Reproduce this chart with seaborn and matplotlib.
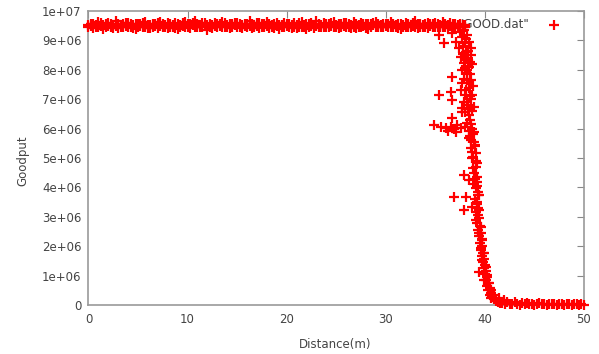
import matplotlib
matplotlib.use("Agg")
import matplotlib.pyplot as plt
import pandas as pd
import seaborn as sns

# flat part: distance (m) and two goodput readings per distance, units of 1e4
band_x = [0, 0.25, 0.5, 0.75, 1, 1.25, 1.5, 1.75, 2, 2.25, 2.5, 2.75, 3, 3.25, 3.5, 3.75, 4, 4.25, 4.5, 4.75,
          5, 5.25, 5.5, 5.75, 6, 6.25, 6.5, 6.75, 7, 7.25, 7.5, 7.75, 8, 8.25, 8.5, 8.75, 9, 9.25, 9.5, 9.75,
          10, 10.25, 10.5, 10.75, 11, 11.25, 11.5, 11.75, 12, 12.25, 12.5, 12.75, 13, 13.25, 13.5, 13.75, 14, 14.25, 14.5, 14.75,
          15, 15.25, 15.5, 15.75, 16, 16.25, 16.5, 16.75, 17, 17.25, 17.5, 17.75, 18, 18.25, 18.5, 18.75, 19, 19.25, 19.5, 19.75,
          20, 20.25, 20.5, 20.75, 21, 21.25, 21.5, 21.75, 22, 22.25, 22.5, 22.75, 23, 23.25, 23.5, 23.75, 24, 24.25, 24.5, 24.75,
          25, 25.25, 25.5, 25.75, 26, 26.25, 26.5, 26.75, 27, 27.25, 27.5, 27.75, 28, 28.25, 28.5, 28.75, 29, 29.25, 29.5, 29.75,
          30, 30.25, 30.5, 30.75, 31, 31.25, 31.5, 31.75, 32, 32.25, 32.5, 32.75, 33, 33.25, 33.5, 33.75, 34, 34.25, 34.5, 34.75,
          35, 35.25, 35.5, 35.75, 36, 36.25, 36.5, 36.75, 37, 37.25, 37.5, 37.75, 38]
band_y = [952, 948, 957, 944, 961, 950, 939, 955, 958, 947, 953, 966, 942, 951, 956, 949, 960, 945, 954, 938,
          957, 950, 946, 962, 953, 941, 955, 949, 958, 964, 947, 952, 943, 956, 951, 959, 940, 954, 948, 961,
          946, 955, 951, 967, 944, 953, 958, 949, 937, 956, 952, 960, 945, 950, 963, 947, 954, 942, 957, 951,
          959, 944, 952, 948, 956, 965, 941, 953, 950, 958, 946, 955, 962, 943, 951, 957, 949, 939, 954, 960,
          950, 956, 943, 958, 952, 947, 961, 954, 940, 957, 949, 953, 966, 945, 951, 959, 944, 955, 948, 962,
          953, 941, 957, 950, 960, 946, 954, 964, 942, 952, 958, 948, 955, 939, 956, 951, 961, 947, 953, 957,
          948, 955, 962, 944, 951, 957, 940, 953, 959, 946, 954, 950, 965, 943, 956, 952, 947, 960, 949, 955,
          958, 945, 952, 961, 947, 954, 950, 943, 957, 951, 946, 953, 951]
band_y2 = [945, 956, 943, 953, 947, 958, 952, 944, 949, 957, 942, 950, 955, 946, 944, 958, 947, 955, 941, 956,
           944, 955, 958, 947, 941, 954, 946, 957, 943, 949, 955, 944, 958, 947, 946, 942, 956, 947, 959, 945,
           956, 943, 959, 946, 955, 944, 947, 958, 953, 945, 943, 948, 957, 955, 944, 959, 945, 956, 946, 958,
           947, 957, 943, 956, 944, 948, 955, 946, 958, 943, 957, 944, 949, 956, 945, 943, 958, 953, 946, 944,
           957, 945, 954, 946, 943, 958, 947, 944, 956, 945, 958, 943, 948, 956, 944, 946, 955, 947, 958, 945,
           946, 956, 944, 958, 945, 955, 943, 947, 957, 944, 946, 956, 943, 955, 947, 958, 944, 955, 946, 944,
           956, 944, 947, 957, 945, 943, 955, 946, 944, 957, 945, 958, 947, 955, 944, 946, 957, 943, 956, 944,
           946, 955, 944, 947, 956, 943, 958, 955, 945, 944, 956, 947, 946]

# falling part: distance (m) and goodput in units of 1e6
drop_x = [35.4, 36.7, 35.9, 37.1, 37.7, 38.4, 37.4, 38.1, 37.6, 38.6, 37.9, 38.4, 37.7, 38.2, 36.7, 38.6, 37.7,
          35.4, 36.6, 37.6, 38.4, 38.75, 36.7, 37.9, 37.7, 38.9,
          36.7, 37.7, 38.4, 34.9, 35.6, 36.1, 36.6, 36.9, 37.2, 37.6, 38.0, 38.4, 38.7, 36.3, 37.1,
          38.4, 38.9, 38.6, 39.1, 38.75, 39.25, 37.9, 38.9, 38.4, 39.25, 39.1, 36.9, 38.1, 39.4, 39.25,
          37.9, 38.75, 39.4, 39.1, 39.6, 39.4, 39.75, 39.6, 39.9, 39.75, 39.4, 40.1, 40.25, 39.9, 40.4,
          40.6, 40.95, 41.4, 41.9,
          39.2, 39.35, 39.1, 39.3, 39.4, 39.25, 39.5, 39.35, 39.6, 39.45, 39.7, 39.5, 39.75, 39.6, 39.85,
          39.7, 39.95, 39.8, 40.05, 39.9, 40.15, 40.0, 40.25, 40.1, 40.35, 40.2, 40.5, 40.35, 40.6, 40.5,
          40.75, 40.65, 40.9, 41.1, 41.3, 41.5,
          37.9, 38.1, 37.8, 38.3, 38.0, 38.5, 38.2, 37.9, 38.4, 38.1, 38.6, 38.3, 38.0, 38.5, 38.2, 38.8,
          38.5, 39.0, 38.7, 39.1, 38.8, 39.2, 38.9, 39.3, 39.0,
          37.5, 38.2, 38.0, 38.6, 37.8, 38.3, 38.7, 38.0, 38.5, 38.2, 38.8, 38.0, 38.5, 38.2, 38.7, 38.3,
          38.6, 38.9, 38.6, 39.0, 38.8, 39.1, 39.0, 39.2, 39.3]
drop_y = [9.18, 9.24, 8.90, 8.96, 9.13, 8.96, 8.73, 8.62, 8.45, 8.50, 8.22, 8.11, 7.99, 7.88, 7.77, 7.65, 7.54,
          7.14, 7.26, 7.31, 7.37, 7.14, 6.97, 6.92, 6.69, 6.74,
          6.35, 6.57, 6.46, 6.12, 6.06, 6.03, 6.06, 5.99, 6.12, 6.01, 6.06, 5.92, 5.99, 5.92, 5.87,
          5.67, 5.55, 5.33, 5.16, 4.99, 4.82, 4.42, 4.48, 4.25, 4.19, 3.97, 3.68, 3.68, 3.74, 3.51,
          3.23, 3.34, 3.23, 2.89, 2.66, 2.44, 2.21, 1.93, 1.76, 1.53, 1.13, 1.30, 1.02, 0.85, 0.74,
          0.51, 0.34, 0.23, 0.17,
          3.45, 3.30, 3.15, 3.05, 2.95, 2.80, 2.70, 2.55, 2.45, 2.35, 2.25, 2.10, 2.00, 1.88, 1.78,
          1.65, 1.55, 1.45, 1.35, 1.25, 1.15, 1.05, 0.95, 0.85, 0.75, 0.65, 0.58, 0.50, 0.42, 0.35,
          0.30, 0.24, 0.20, 0.15, 0.11, 0.08,
          9.35, 9.05, 8.80, 8.65, 8.35, 8.25, 8.00, 7.70, 7.55, 7.30, 7.00, 6.80, 6.55, 6.30, 6.20, 5.80,
          5.75, 5.40, 5.20, 4.90, 4.65, 4.35, 4.10, 3.85, 3.60,
          9.30, 9.20, 8.90, 8.75, 8.55, 8.40, 8.20, 8.05, 7.85, 7.65, 7.45, 7.15, 7.10, 6.90, 6.60, 6.65,
          6.15, 5.90, 5.60, 5.45, 5.05, 4.70, 4.30, 4.05, 3.75]

# tail near zero: distance (m) and goodput in units of 1e4
tail_x = [41.75, 42, 42.25, 42.5, 42.75, 43, 43.25, 43.5, 43.75, 44, 44.25, 44.5, 44.75, 45, 45.25, 45.5, 45.75,
          46, 46.25, 46.5, 46.75, 47, 47.25, 47.5, 47.75, 48, 48.25, 48.5, 48.75, 49, 49.25, 49.5, 49.75, 50]
tail_y = [6, 3, 9, 2, 5, 11, 4, 1, 7, 3, 8, 2, 5, 1, 4, 6, 2, 3, 1, 5, 2, 4, 1, 3, 2, 1, 4, 2, 1, 3, 2, 1, 2, 1]

x_ticks = [0, 10, 20, 30, 40, 50]
y_ticks = [0, 1e6, 2e6, 3e6, 4e6, 5e6, 6e6, 7e6, 8e6, 9e6, 1e7]
y_tick_labels = ["0", "1e+06", "2e+06", "3e+06", "4e+06", "5e+06", "6e+06", "7e+06", "8e+06", "9e+06", "1e+07"]

df = pd.DataFrame({
    "distance": band_x + band_x + drop_x + tail_x,
    "goodput": [v * 1e4 for v in band_y + band_y2] + [v * 1e6 for v in drop_y] + [v * 1e4 for v in tail_y],
})

sns.set_style("white")
fig = plt.figure(figsize=(5.99, 3.54), dpi=100)
ax = fig.add_axes([0.1477, 0.1384, 0.8272, 0.8305])

sns.scatterplot(data=df, x="distance", y="goodput", marker="+", s=44, linewidth=1.6,
                color="#ff0000", label='"GOOD.dat"', zorder=6, clip_on=False, ax=ax)

ax.set_xlim(0, 50)
ax.set_ylim(0, 1e7)
ax.set_xticks(x_ticks)
ax.set_yticks(y_ticks)
ax.set_yticklabels(y_tick_labels)
ax.tick_params(direction="in", length=5, width=0.8, top=True, right=True,
               color="#888888", labelcolor="#444444", labelsize=8.5)
ax.tick_params(axis="x", pad=6)
ax.tick_params(axis="y", pad=5)
for sp in ax.spines.values():
    sp.set_color("#999999")
    sp.set_linewidth(1.2)

ax.set_xlabel("Distance(m)", fontsize=8.5, color="#444444")
ax.set_ylabel("Goodput", fontsize=8.5, color="#444444")
ax.xaxis.set_label_coords(0.497, -0.112)
ax.yaxis.set_label_coords(-0.12, 0.49)

leg = ax.legend(loc="upper right", bbox_to_anchor=(572 / 599, 1 - 18 / 354), bbox_transform=fig.transFigure,
                frameon=False, markerfirst=False, handlelength=3.0, handletextpad=0.6,
                borderpad=0, borderaxespad=0, fontsize=8.5, labelcolor="#444444")
leg.set_zorder(2)

fig.savefig("out.png", dpi=100)
